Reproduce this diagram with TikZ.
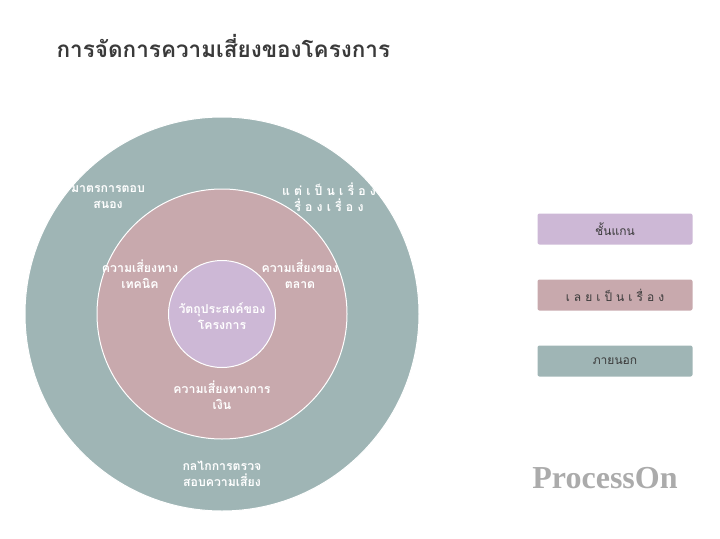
\documentclass[tikz,border=0pt]{standalone}
\usepackage{fontspec}
\newfontfamily\thaifont[Script=Thai]{Loma}
\setmainfont{Liberation Serif}
\definecolor{outerc}{HTML}{9FB5B5}
\definecolor{midc}{HTML}{C8A9AD}
\definecolor{corec}{HTML}{CDB8D6}
\definecolor{textc}{HTML}{3A3A3A}

\begin{document}
\begin{tikzpicture}[x=1pt,y=-1pt,
    ring/.style={circle,draw=white,line width=1pt,inner sep=0pt,minimum size=#1},
    lab/.style={text=white,font=\thaifont\bfseries\fontsize{12.3}{16}\selectfont,align=center},
    key/.style={rounded corners=2pt,minimum width=155pt,minimum height=31pt,
      text=textc,font=\thaifont\fontsize{12}{14}\selectfont}]
  \useasboundingbox (0,0) rectangle (720,538);
  \node[ring=394pt,fill=outerc] (outer) at (222,314) {};
  \node[ring=250pt,fill=midc] (mid) at (222,314) {};
  \node[ring=107pt,fill=corec] (core) at (222,314) {};
  \node[anchor=west,text=textc,font=\thaifont\bfseries\fontsize{22.5}{26}\selectfont] (title) at (53,46) {การจัดการความเสี่ยงของโครงการ};
  \node[lab] (resp) at (108,197) {มาตรการตอบ\\สนอง};
  \node[lab] (story) at (329,197) {แ ต่ เ ป็ น เ รื่ อ ง\\รื่ อ ง เ รื่ อ ง};
  \node[lab] (tech) at (140,274) {ความเสี่ยงทาง\\เทคนิค};
  \node[lab] (mkt) at (300,274) {ความเสี่ยงของ\\ตลาด};
  \node[lab] (goal) at (222,316) {วัตถุประสงค์ของ\\โครงการ};
  \node[lab] (fin) at (222,395) {ความเสี่ยงทางการ\\เงิน};
  \node[lab] (audit) at (222,474) {กลไกการตรวจ\\สอบความเสี่ยง};
  \node[key,fill=corec] (kcore) at (615,229) {ชั้นแกน};
  \node[key,fill=midc] (kmid) at (615,295) {เ ล ย เ ป็ น เ รื่ อ ง};
  \node[key,fill=outerc] (kout) at (615,361) {ภายนอก};
  \node[text=black!33,font=\bfseries\fontsize{32}{36}\selectfont] (logo) at (605,478) {ProcessOn};
\end{tikzpicture}
\end{document}
